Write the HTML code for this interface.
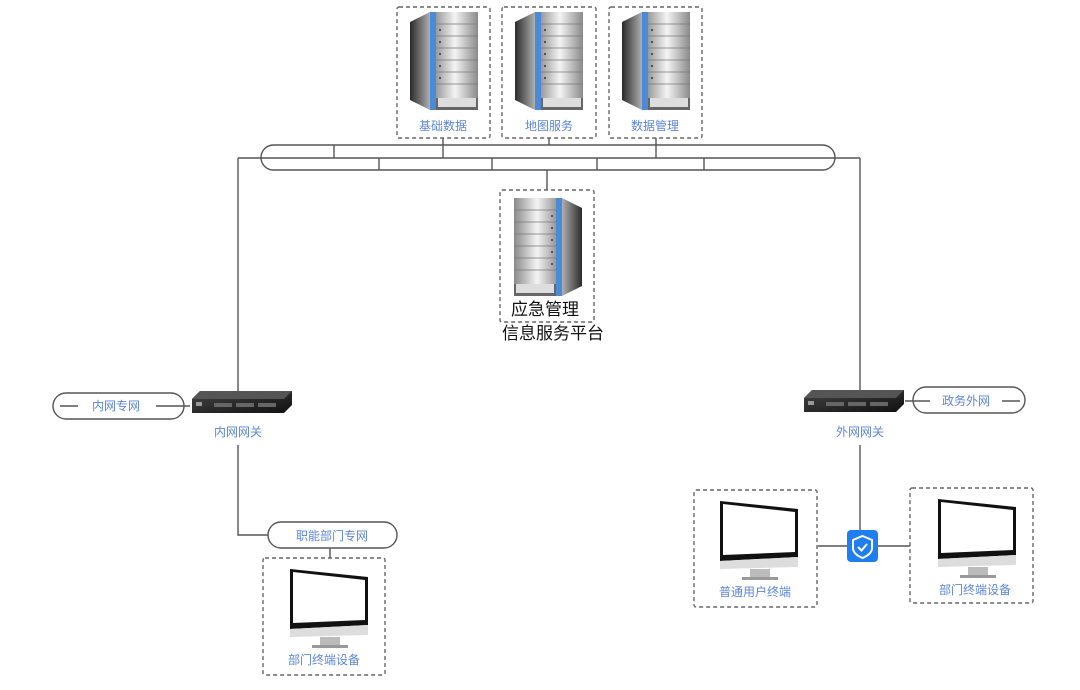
<!DOCTYPE html>
<html><head><meta charset="utf-8"><style>
html,body{margin:0;padding:0;background:#fff;}
svg{display:block;}
.lb{font-family:"Liberation Sans","Noto Sans CJK SC",sans-serif;fill:#5b86d8;font-size:12px;text-anchor:middle;}
.big{font-family:"Liberation Sans","Noto Sans CJK SC",sans-serif;fill:#111;font-size:17px;text-anchor:middle;}
.box{fill:none;stroke:#666;stroke-width:1.4;stroke-dasharray:4,3;}
.ln{stroke:#555;stroke-width:1.4;fill:none;}
</style></head><body>
<svg width="1080" height="690" viewBox="0 0 1080 690" xmlns="http://www.w3.org/2000/svg">
<defs>
<linearGradient id="fr" x1="0" x2="1"><stop offset="0" stop-color="#9a9a9a"/><stop offset=".45" stop-color="#f4f4f4"/><stop offset="1" stop-color="#8a8a8a"/></linearGradient>
<linearGradient id="sd" x1="0" x2="1"><stop offset="0" stop-color="#2a2a2a"/><stop offset="1" stop-color="#b0b0b0"/></linearGradient>
<linearGradient id="gw" y1="0" y2="1"><stop offset="0" stop-color="#444"/><stop offset="1" stop-color="#111"/></linearGradient>
<g id="srv">
<polygon points="0,10 20,0 20,98 0,88" fill="url(#sd)"/>
<rect x="20" y="0" width="6" height="98" fill="#4a8ad8"/>
<rect x="26" y="0" width="42" height="98" fill="url(#fr)"/>
<g stroke="#777" stroke-width="0.8">
<line x1="26" y1="12" x2="68" y2="12"/><line x1="26" y1="24" x2="68" y2="24"/><line x1="26" y1="36" x2="68" y2="36"/><line x1="26" y1="48" x2="68" y2="48"/><line x1="26" y1="60" x2="68" y2="60"/><line x1="26" y1="72" x2="68" y2="72"/></g>
<g fill="#333"><circle cx="30" cy="18" r="1"/><circle cx="30" cy="30" r="1"/><circle cx="30" cy="42" r="1"/><circle cx="30" cy="54" r="1"/><circle cx="30" cy="66" r="1"/></g>
<rect x="26" y="86" width="42" height="12" fill="#666"/>
<rect x="28" y="86" width="38" height="9" fill="#ddd"/>
</g>
<g id="mon">
<polygon points="0,0 78,8 78,56 0,60" fill="#111"/>
<polygon points="3,3 75,11 75,51 3,54" fill="#fff"/>
<polygon points="0,60 78,56 78,66 0,68" fill="#ddd"/>
<rect x="30" y="68" width="20" height="8" fill="#bbb"/>
<rect x="22" y="76" width="36" height="3" fill="#999"/>
</g>
<g id="gwy">
<polygon points="8,0 100,0 100,14 92,22 0,22 0,8" fill="url(#gw)"/>
<polygon points="0,8 8,0 100,0 92,8" fill="#555"/>
<g fill="#666"><rect x="22" y="12" width="18" height="4"/><rect x="44" y="12" width="18" height="4"/><rect x="66" y="12" width="18" height="4"/><rect x="4" y="11" width="6" height="4" fill="#999"/></g>
</g>
</defs>

<rect class="box" x="397" y="7" width="93" height="131" rx="2"/>
<rect class="box" x="502" y="7" width="94" height="131" rx="2"/>
<rect class="box" x="609" y="7" width="93" height="131" rx="2"/>
<use href="#srv" x="410" y="12"/>
<use href="#srv" x="515" y="12"/>
<use href="#srv" x="622" y="12"/>
<text class="lb" x="443" y="130">基础数据</text>
<text class="lb" x="549" y="130">地图服务</text>
<text class="lb" x="655" y="130">数据管理</text>

<rect class="ln" x="261" y="145" width="574" height="25" rx="12.5"/>
<line class="ln" x1="238" y1="158" x2="860" y2="158"/>
<g class="ln">
<line x1="334" y1="145" x2="334" y2="158"/><line x1="443" y1="138" x2="443" y2="158"/><line x1="656" y1="138" x2="656" y2="158"/><line x1="549" y1="138" x2="549" y2="145"/>
<line x1="379" y1="158" x2="379" y2="170"/><line x1="492" y1="158" x2="492" y2="170"/><line x1="597" y1="158" x2="597" y2="170"/><line x1="704" y1="158" x2="704" y2="170"/>
<line x1="547" y1="170" x2="547" y2="190"/>
<line x1="238" y1="158" x2="238" y2="395"/><line x1="860" y1="158" x2="860" y2="392"/>
</g>

<rect class="box" x="500" y="190" width="94" height="132" rx="2"/>
<g transform="translate(582,198) scale(-1,1)"><use href="#srv" x="0" y="0"/></g>
<text class="big" x="545" y="315">应急管理</text>
<text class="big" x="553" y="339">信息服务平台</text>

<rect class="ln" x="53" y="393" width="131" height="26" rx="13"/>
<line class="ln" x1="60" y1="406" x2="78" y2="406"/><line class="ln" x1="156" y1="406" x2="190" y2="406"/>
<text class="lb" x="116" y="410">内网专网</text>
<use href="#gwy" x="192" y="391"/>
<text class="lb" x="238" y="436">内网网关</text>
<polyline class="ln" points="238,445 238,535 268,535"/>
<rect class="ln" x="268" y="522" width="129" height="26" rx="13"/>
<text class="lb" x="332" y="540">职能部门专网</text>
<line class="ln" x1="330" y1="548" x2="330" y2="558"/>
<rect class="box" x="263" y="558" width="122" height="117" rx="2"/>
<use href="#mon" x="290" y="569"/>
<text class="lb" x="324" y="664">部门终端设备</text>

<use href="#gwy" x="804" y="390"/>
<rect class="ln" x="913" y="387" width="112" height="26" rx="13"/>
<line class="ln" x1="905" y1="401" x2="930" y2="401"/><line class="ln" x1="1002" y1="401" x2="1020" y2="401"/>
<text class="lb" x="966" y="405">政务外网</text>
<text class="lb" x="860" y="436">外网网关</text>
<line class="ln" x1="860" y1="445" x2="860" y2="530"/>
<line class="ln" x1="818" y1="546" x2="847" y2="546"/><line class="ln" x1="878" y1="546" x2="910" y2="546"/>
<rect x="847" y="530" width="31" height="32" rx="4" fill="#1f7ff0"/>
<path d="M862.5,536 L872,540 L872,548 Q872,554 862.5,558 Q853,554 853,548 L853,540 Z" fill="none" stroke="#fff" stroke-width="2"/>
<polyline points="858,547 861.5,550.5 867,544" fill="none" stroke="#fff" stroke-width="2"/>
<rect class="box" x="694" y="490" width="123" height="117" rx="2"/>
<use href="#mon" x="720" y="501"/>
<text class="lb" x="755" y="596">普通用户终端</text>
<rect class="box" x="910" y="488" width="123" height="115" rx="2"/>
<use href="#mon" x="938" y="499"/>
<text class="lb" x="975" y="594">部门终端设备</text>
</svg>
</body></html>
